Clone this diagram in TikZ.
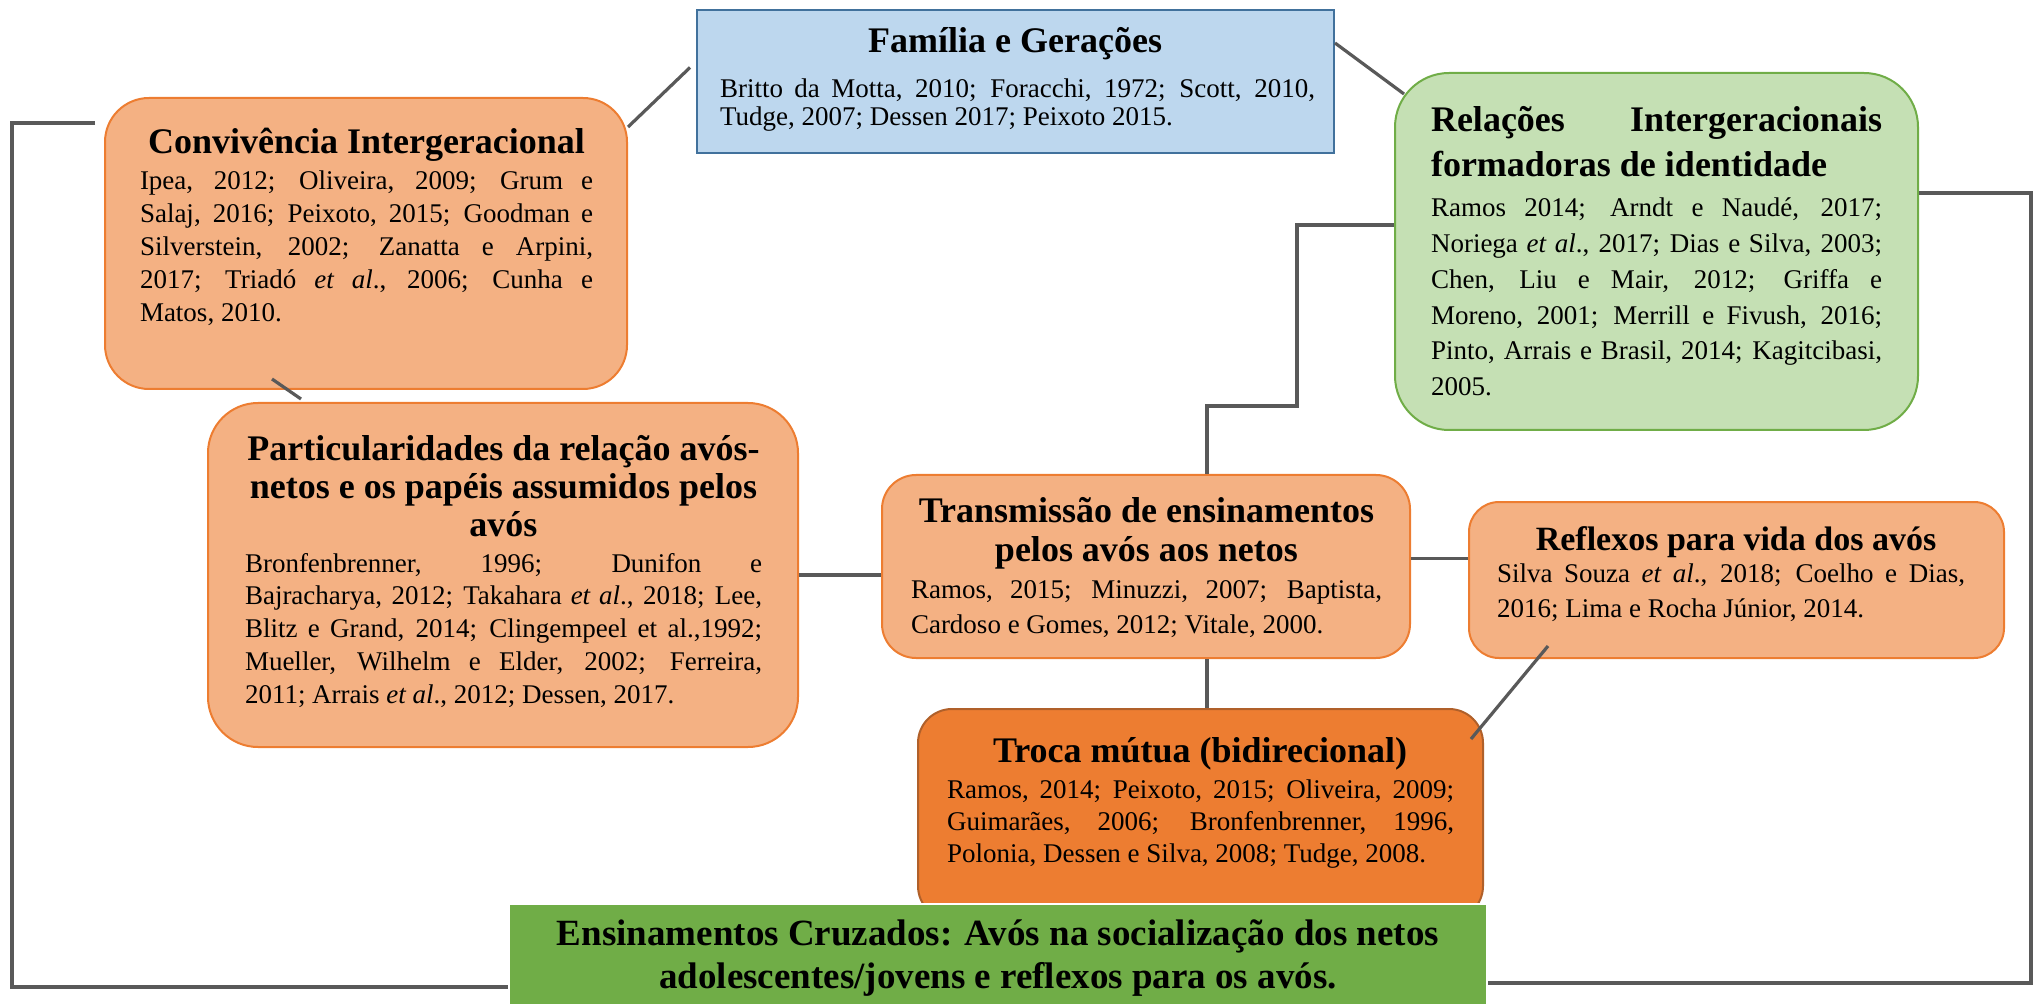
\documentclass[tikz,border=0pt]{standalone}
\usepackage{fontspec}
\setmainfont{Liberation Serif}
\usetikzlibrary{calc}
\definecolor{orfill}{HTML}{F4B183}
\definecolor{ordraw}{HTML}{ED7D31}
\definecolor{trfill}{HTML}{ED7D31}
\definecolor{trdraw}{HTML}{B0602A}
\definecolor{blfill}{HTML}{BDD7EE}
\definecolor{bldraw}{HTML}{41719C}
\definecolor{grfill}{HTML}{C5E0B4}
\definecolor{grdraw}{HTML}{70AD47}
\definecolor{ensfill}{HTML}{70AD47}
\definecolor{conn}{HTML}{595959}
\newcommand\J[1]{\hbox to \hsize{#1}}
\newcommand\Lst[1]{\hbox{#1}}
\newcommand\Cn[1]{\hbox to \hsize{\hfil#1\hfil}}
\newcommand\etal{\textit{et al}.}
\newcommand\bx[3]{\vtop{\hsize=#1\relax\fontsize{13.5}{#2}\selectfont #3}}
\newcommand\ttl[4]{\vtop{\hsize=#1\relax\fontsize{#3}{#2}\selectfont\bfseries #4}}
\tikzset{
  obox/.style={draw=ordraw, fill=orfill, line width=1pt, inner sep=0pt},
  txt/.style={inner sep=0pt, outer sep=0pt, anchor=base west, text=black},
  link/.style={draw=conn, line width=1.6pt}
}
\begin{document}
\begin{tikzpicture}[x=0.5pt,y=-0.5pt]
\useasboundingbox (0,0) rectangle (2040,1005);
% boxes
\node[obox, rounded corners=22pt, minimum width=261pt, minimum height=145.5pt] (conv) at (366,243.5) {};
\node[draw=bldraw, fill=blfill, line width=1pt, inner sep=0pt, minimum width=318.5pt, minimum height=71.5pt] (fam) at (1015.5,81.5) {};
\node[draw=grdraw, fill=grfill, line width=1pt, inner sep=0pt, rounded corners=27pt, minimum width=261.5pt, minimum height=178.5pt] (rel) at (1656.5,251.5) {};
\node[obox, rounded corners=25pt, minimum width=295pt, minimum height=172pt] (part) at (503,575) {};
\node[obox, rounded corners=17pt, minimum width=264pt, minimum height=91.5pt] (trans) at (1146,566.5) {};
\node[obox, rounded corners=15pt, minimum width=267.5pt, minimum height=78pt] (refl) at (1736.5,580) {};
\node[draw=trdraw, fill=trfill, line width=1pt, inner sep=0pt, rounded corners=17pt, minimum width=282.5pt, minimum height=105.5pt] (troca) at (1200.5,814.5) {};
\node[draw=white, fill=ensfill, line width=1pt, inner sep=0pt, minimum width=489pt, minimum height=50.5pt] (ens) at (998,954.5) {};
% connectors
\draw[link] ($(conv.north east)+(0,30)$) -- ($(fam.west)+(-6,-14)$);
\draw[link] ($(fam.east)+(0,-38.5)$) -- ($(rel.north west)+(10,22)$);
\draw[link] ($(conv.south)+(-94,-11)$) -- ($(part.north)+(-202,-3)$);
\draw[link] (part.east) -- (part.east -| trans.west);
\coordinate (tr1) at ($(trans.north)+(61,0)$);
\coordinate (tr2) at ($(rel.west)+(0,-26.5)$);
\draw[link] (tr1) -- ++(0,-68) -| ($(tr2)+(-97,0)$) -- (tr2);
\coordinate (tr3) at ($(trans.east)+(0,-8)$);
\draw[link] (tr3) -- (tr3 -| refl.west);
\coordinate (tr4) at ($(trans.south)+(61,0)$);
\draw[link] (tr4) -- (tr4 |- troca.north);
\draw[link] ($(refl.south west)+(80,-13)$) -- ($(troca.north east)+(-13,31)$);
\coordinate (L1) at ($(conv.north west)+(-9,26)$);
\coordinate (L2) at ($(ens.south west)+(0,-19)$);
\draw[link] (L1) -- ++(-83,0) |- (L2);
\coordinate (R1) at ($(rel.east)+(0,-58.5)$);
\coordinate (R2) at ($(ens.south east)+(0,-23)$);
\draw[link] (R1) -- ++(112,0) |- (R2);
% texts
\node[txt] (convT) at (140,154) {\ttl{226.5pt}{22pt}{18}{\Cn{Convivência Intergeracional}}};
\node[txt] (convB) at (140,190) {\bx{226.5pt}{16.5pt}{%
\J{Ipea, 2012; Oliveira, 2009; Grum e}%
\J{Salaj, 2016; Peixoto, 2015; Goodman e}%
\J{Silverstein, 2002; Zanatta e Arpini,}%
\J{2017; Triadó \etal, 2006; Cunha e}%
\Lst{Matos, 2010.}}};
\node[txt, anchor=base] (famT) at (1015,53) {\fontsize{18}{22}\selectfont\bfseries Família e Gerações};
\node[txt] (famB) at (720,98) {\bx{297.5pt}{14pt}{%
\J{Britto da Motta, 2010; Foracchi, 1972; Scott, 2010,}%
\Lst{Tudge, 2007; Dessen 2017; Peixoto 2015.}}};
\node[txt] (relT) at (1431,132) {\ttl{225.5pt}{22.5pt}{18}{%
\J{Relações Intergeracionais}%
\Lst{formadoras de identidade}}};
\node[txt] (relB) at (1431,217) {\bx{225.5pt}{17.85pt}{%
\J{Ramos 2014; Arndt e Naudé, 2017;}%
\J{Noriega \etal, 2017; Dias e Silva, 2003;}%
\J{Chen, Liu e Mair, 2012; Griffa e}%
\J{Moreno, 2001; Merrill e Fivush, 2016;}%
\J{Pinto, Arrais e Brasil, 2014; Kagitcibasi,}%
\Lst{2005.}}};
\node[txt] (partT) at (245,460) {\ttl{258.5pt}{19.25pt}{18}{%
\Cn{Particularidades da relação avós-}%
\Cn{netos e os papéis assumidos pelos}%
\Cn{avós}}};
\node[txt] (partB) at (245,572) {\bx{258.5pt}{16.4pt}{%
\J{Bronfenbrenner, 1996; Dunifon e}%
\J{Bajracharya, 2012; Takahara \etal, 2018; Lee,}%
\J{Blitz e Grand, 2014; Clingempeel et al.,1992;}%
\J{Mueller, Wilhelm e Elder, 2002; Ferreira,}%
\Lst{2011; Arrais \etal, 2012; Dessen, 2017.}}};
\node[txt] (transT) at (911,523) {\ttl{235.5pt}{19.5pt}{18}{%
\Cn{Transmissão de ensinamentos}%
\Cn{pelos avós aos netos}}};
\node[txt] (transB) at (911,598) {\bx{235.5pt}{17.5pt}{%
\J{Ramos, 2015; Minuzzi, 2007; Baptista,}%
\Lst{Cardoso e Gomes, 2012; Vitale, 2000.}}};
\node[txt, anchor=base] (reflT) at (1736,550) {\fontsize{17}{20}\selectfont\bfseries Reflexos para vida dos avós};
\node[txt] (reflB) at (1497,582) {\bx{234pt}{17.5pt}{%
\J{Silva Souza \etal, 2018; Coelho e Dias,}%
\Lst{2016; Lima e Rocha Júnior, 2014.}}};
\node[txt, anchor=base] (trocaT) at (1200,762) {\fontsize{18}{22}\selectfont\bfseries Troca mútua (bidirecional)};
\node[txt] (trocaB) at (947,798) {\bx{253.5pt}{16pt}{%
\J{Ramos, 2014; Peixoto, 2015; Oliveira, 2009;}%
\J{Guimarães, 2006; Bronfenbrenner, 1996,}%
\Lst{Polonia, Dessen e Silva, 2008; Tudge, 2008.}}};
\node[txt] (ensT) at (518,945) {\ttl{480pt}{21.5pt}{18.5}{%
\Cn{Ensinamentos Cruzados: Avós na socialização dos netos}%
\Cn{adolescentes/jovens e reflexos para os avós.}}};
\end{tikzpicture}
\end{document}
